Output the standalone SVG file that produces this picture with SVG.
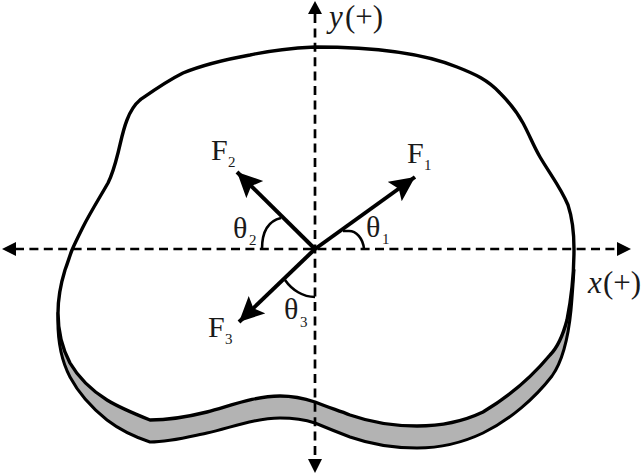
<svg xmlns="http://www.w3.org/2000/svg" width="642" height="474" viewBox="0 0 642 474">
<style>
.o{fill:#fff;stroke:#000;stroke-width:3.4;stroke-linejoin:round}
.ax{fill:none;stroke:#000;stroke-width:2.7;stroke-dasharray:9 5.4}
.f{fill:none;stroke:#000;stroke-width:4}
.a{fill:none;stroke:#000;stroke-width:2.6}
text{font-family:"Liberation Serif",serif;font-size:30px;fill:#1a1a1a}
.s{font-size:15px}
.b{font-size:31px}
.i{font-style:italic}
</style>
<defs>
<marker id="ah" markerUnits="userSpaceOnUse" markerWidth="30" markerHeight="30" refX="25" refY="12" orient="auto"><path d="M0 0L25 12L0 24L5 12Z" fill="#000"/></marker>
</defs>
<g id="plate">
<path d="M58 313C57 340 62 362 70 377C78 392 92 408 107 420C120 430 135 437 150 442C170 442 188 437 207 433C230 428 255 418 280 418C292 418 303 419 315 423C327 428 337 432 350 437C370 444 392 448 417 448C440 448 462 443 483 433C510 420 535 398 552 376C562 362 568 340 571 310C572 300 573 285 574 270L520 340L300 350L120 370Z" fill="#b3b3b3" stroke="#000" stroke-width="3" stroke-linejoin="round"/>
<path class="o" d="M315 47C365 47 420 52 457 67C475 74 488 80 500 93C510 103 517 112 523 123C530 136 533 145 540 157C550 174 561 188 568 205C572 217 574 233 574 249C574 275 571 300 567 320C563 335 558 347 550 355C535 373 515 393 483 412C462 422 440 426 417 426C392 426 370 422 350 415C337 410 327 407 315 402C303 398 292 396 280 396C255 396 230 406 207 412C187 417 168 420 150 420C135 414 120 408 107 400C88 388 77 375 70 363C62 348 58 330 58 313C58 297 61 283 65 270C68 262 70 255 72 250C75 243 79 235 83 227C90 213 100 197 108 183C113 173 115 165 118 153C121 141 123 130 127 120C130 112 134 105 140 100C150 93 165 82 183 73C205 64 228 59 250 55C272 50 295 48 315 47Z"/>
</g>
<g id="connectors">
<path class="ax" d="M15 249H618"/>
<path class="ax" d="M315 14V459"/>
<path d="M2 249L16 242V256Z"/>
<path d="M631 249L617 242V256Z"/>
<path d="M315 1L322 14H308Z"/>
<path d="M315 473L308 459H322Z"/>
<path class="f" marker-end="url(#ah)" d="M315 249L415 177"/>
<path class="f" marker-end="url(#ah)" d="M315 249L237 172"/>
<path class="f" marker-end="url(#ah)" d="M315 249L239 322"/>
<path class="a" d="M364 249C363 238 356 231 349 231C346 231 344 231 343 231"/>
<path class="a" d="M262 249C262 232 268 221 281 218"/>
<path class="a" d="M285 280C292 290 303 297 315 297"/>
</g>
<g id="labels">
<text x="407" y="163">F</text><text class="s" x="424" y="170">1</text>
<text x="211" y="160">F</text><text class="s" x="228" y="167">2</text>
<text x="208" y="337">F</text><text class="s" x="225" y="344">3</text>
<text x="366" y="237">θ</text><text class="s" x="382" y="244">1</text>
<text x="233" y="238">θ</text><text class="s" x="249" y="245">2</text>
<text x="284" y="319">θ</text><text class="s" x="300" y="327">3</text>
<text class="i b" x="329" y="27">y</text><text class="b" x="345" y="27">(+)</text>
<text class="i b" x="588" y="293">x</text><text class="b" x="603" y="293">(+)</text>
</g>
</svg>
